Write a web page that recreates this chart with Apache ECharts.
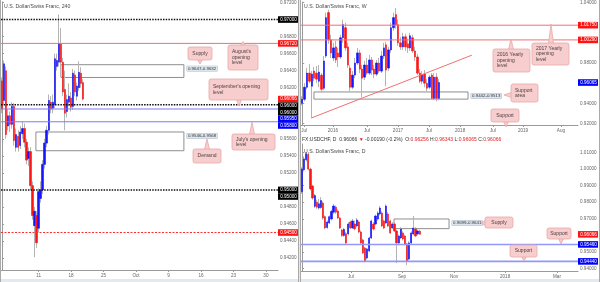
<!DOCTYPE html>
<html><head><meta charset="utf-8">
<script src="https://cdn.jsdelivr.net/npm/echarts@6/dist/echarts.min.js"></script>
<style>html,body{margin:0;padding:0;background:#fff}#c{width:600px;height:282px}</style>
</head><body><div id="c"></div>
<script>
// ================= DATA =================
// ---- 4H panel (left) ----
const h4Open  = [0.9628,0.9605,0.9640,0.9575,0.9587,0.9577,0.9598,0.9550,0.9563,0.9552,0.9566,0.9572,0.9556,0.9537,0.9545,0.9505,0.9458,0.9470,0.9455,0.9490,0.9500,0.9530,0.9555,0.9570,0.9603,0.9596,0.9600,0.9645,0.9650,0.9671,0.9650,0.9618,0.9592,0.9603,0.9608,0.9598,0.9635,0.9610,0.9620,0.9637,0.9626];
const h4Close = [0.9595,0.9648,0.9565,0.9587,0.9577,0.9598,0.9558,0.9565,0.9550,0.9568,0.9572,0.9556,0.9535,0.9545,0.9505,0.9470,0.9475,0.9438,0.9498,0.9500,0.9530,0.9555,0.9570,0.9605,0.9595,0.9603,0.9654,0.9652,0.9672,0.9650,0.9615,0.9590,0.9606,0.9610,0.9597,0.9637,0.9615,0.9622,0.9638,0.9625,0.96066];
const h4High  = [0.9632,0.9652,0.9645,0.9595,0.9592,0.9603,0.9602,0.9572,0.9570,0.9575,0.9580,0.9578,0.9560,0.9550,0.9550,0.9510,0.9480,0.9475,0.9502,0.9510,0.9535,0.9560,0.9575,0.9612,0.9610,0.9612,0.9660,0.9660,0.9706,0.9690,0.9655,0.9640,0.9612,0.9625,0.9615,0.9642,0.9640,0.9626,0.9651,0.9644,0.9630];
const h4Low   = [0.9590,0.9600,0.9560,0.9570,0.9568,0.9572,0.9552,0.9545,0.9545,0.9548,0.9560,0.9550,0.9530,0.9528,0.9500,0.9465,0.9421,0.9432,0.9450,0.9485,0.9495,0.9525,0.9550,0.9565,0.9590,0.9590,0.9596,0.9640,0.9645,0.9645,0.9610,0.9570,0.9585,0.9598,0.9592,0.9594,0.9610,0.9605,0.9616,0.9620,0.9605];
const h4DateTicks = [18,34,50,66,82,98,114,130];
const h4DateLabels = ['11','18','25','Oct','9','16','23','30'];
const h4PriceTicks = [0.942,0.944,0.946,0.948,0.950,0.952,0.954,0.956,0.958,0.960,0.962,0.964,0.966,0.968,0.970,0.972];
const h4Levels = [0.9700,0.9672,0.9600,0.9595,0.9580,0.9500,0.9450];
const h4TagValues = [0.9700,0.9672,0.96066,0.9600,0.9600,0.9595,0.9580,0.9500,0.9500,0.9450];
const h4Zones = [[29,89.6,0.9632,0.9647],[16.7,89.6,0.9546,0.9568]];
const h4ZoneLabels = ['0.9647-0.9632','0.9546-0.9568'];

// ---- Weekly panel (top right) ----
const wkOpen  = [0.9400,0.9440,0.9560,0.9700,0.9570,0.9720,0.9700,0.9620,0.9680,0.9550,0.9870,1.0300,1.0030,0.9850,0.9960,0.9900,0.9860,1.0050,1.0150,0.9960,0.9750,0.9560,0.9680,0.9800,0.9900,0.9740,0.9660,0.9780,0.9700,0.9830,0.9740,0.9690,0.9800,0.9720,0.9870,0.9980,0.9750,0.9930,1.0150,1.0280,1.0180,1.0000,0.9960,1.0060,0.9990,0.9950,1.0050,0.9920,0.9860,0.9700,0.9620,0.9690,0.9600,0.9560,0.9680,0.9450,0.9660,0.9450];
const wkClose = [0.9440,0.9560,0.9700,0.9620,0.9690,0.9650,0.9640,0.9710,0.9540,0.9820,1.0250,1.0030,0.9900,0.9950,0.9830,0.9860,1.0050,1.0180,0.9950,0.9780,0.9560,0.9680,0.9800,0.9900,0.9740,0.9650,0.9780,0.9700,0.9830,0.9730,0.9690,0.9800,0.9720,0.9870,0.9950,0.9730,0.9930,1.0150,1.0250,1.0180,1.0000,0.9960,1.0060,0.9960,0.9950,1.0070,0.9920,0.9860,0.9700,0.9620,0.9680,0.9600,0.9550,0.9660,0.9450,0.9660,0.9450,0.96065];
const wkHigh  = [0.9470,0.9600,0.9750,0.9790,0.9720,0.9760,0.9770,0.9780,0.9700,0.9870,1.0300,1.0328,1.0080,1.0000,1.0020,0.9950,1.0080,1.0230,1.0200,1.0000,0.9780,0.9720,0.9850,0.9950,0.9930,0.9780,0.9820,0.9850,0.9880,0.9860,0.9780,0.9830,0.9850,0.9920,1.0000,1.0010,0.9960,1.0200,1.0300,1.0344,1.0230,1.0060,1.0100,1.0090,1.0040,1.0100,1.0080,0.9960,0.9890,0.9740,0.9720,0.9730,0.9640,0.9680,0.9700,0.9700,0.9700,0.9640];
const wkLow   = [0.9380,0.9420,0.9540,0.9600,0.9259,0.9620,0.9600,0.9560,0.9510,0.9530,0.9850,0.9990,0.9850,0.9820,0.9800,0.9760,0.9840,1.0000,0.9920,0.9750,0.9520,0.9540,0.9650,0.9780,0.9700,0.9460,0.9630,0.9680,0.9680,0.9680,0.9650,0.9670,0.9700,0.9700,0.9840,0.9570,0.9720,0.9900,1.0120,1.0140,0.9970,0.9930,0.9930,0.9920,0.9900,0.9920,0.9900,0.9820,0.9680,0.9600,0.9590,0.9560,0.9520,0.9540,0.9440,0.9440,0.9420,0.9430];
const wkDateTicks = [0.8,12.8,27,39.9,52.8,65.8,79.5,92,107.8];
const wkDateLabels = ['Jul','2016','Jul','2017','Jul','2018','Jul','2019','Aug'];
const wkPriceTicks = [0.92,0.94,0.96,0.98,1.00,1.02,1.04];
const wkLevels = [1.0175,1.0029];
const wkTagValues = [1.0175,1.0029,0.96065];
const wkTrend = [[3.7,0.9254],[70.7,0.9878]];
const wkZones = [[4.9,69.1,0.9442,0.9513]];
const wkZoneLabels = ['0.9442-0.9513'];

// ---- Daily panel (bottom right) ----
const dOpen  = [0.9863,0.9995,1.0055,1.0088,0.9999,0.9897,0.9775,0.9800,0.9765,0.9768,0.9795,0.9713,0.9648,0.9675,0.9699,0.9740,0.9770,0.9747,0.9705,0.9633,0.9600,0.9610,0.9609,0.9681,0.9645,0.9669,0.9657,0.9681,0.9621,0.9573,0.9525,0.9464,0.9507,0.9585,0.9669,0.9669,0.9699,0.9729,0.9735,0.9687,0.9675,0.9729,0.9687,0.9645,0.9669,0.9627,0.9555,0.9585,0.9615,0.9597,0.9549,0.9458,0.9555,0.9609,0.9639,0.9609,0.96256];
const dClose = [1.0000,1.0060,1.0092,0.9999,0.9880,0.9825,0.9840,0.9770,0.9790,0.9810,0.9705,0.9645,0.9681,0.9713,0.9745,0.9777,0.9740,0.9705,0.9645,0.9600,0.9637,0.9555,0.9669,0.9645,0.9687,0.9640,0.9693,0.9621,0.9555,0.9495,0.9446,0.9519,0.9585,0.9687,0.9639,0.9717,0.9735,0.9765,0.9657,0.9645,0.9777,0.9657,0.9615,0.9669,0.9627,0.9555,0.9597,0.9639,0.9579,0.9549,0.9446,0.9555,0.9615,0.9645,0.9597,0.9627,0.96066];
const dHigh  = [1.0010,1.0075,1.0102,1.0098,1.0008,0.9905,0.9850,0.9815,0.9820,0.9830,0.9805,0.9720,0.9690,0.9720,0.9755,0.9790,0.9780,0.9755,0.9712,0.9640,0.9645,0.9620,0.9680,0.9690,0.9700,0.9690,0.9705,0.9690,0.9630,0.9580,0.9530,0.9525,0.9592,0.9695,0.9680,0.9725,0.9745,0.9777,0.9745,0.9695,0.9787,0.9740,0.9695,0.9680,0.9680,0.9635,0.9605,0.9650,0.9625,0.9605,0.9555,0.9565,0.9625,0.9717,0.9650,0.9635,0.96343];
const dLow   = [0.9850,0.9985,1.0045,0.9990,0.9870,0.9815,0.9765,0.9760,0.9755,0.9760,0.9695,0.9638,0.9640,0.9668,0.9690,0.9730,0.9730,0.9698,0.9638,0.9592,0.9592,0.9548,0.9600,0.9638,0.9640,0.9630,0.9648,0.9612,0.9548,0.9488,0.9438,0.9455,0.9500,0.9578,0.9630,0.9660,0.9690,0.9720,0.9650,0.9638,0.9668,0.9650,0.9608,0.9638,0.9620,0.9434,0.9545,0.9578,0.9570,0.9540,0.9421,0.9450,0.9548,0.9600,0.9590,0.9600,0.96065];
const dDateTicks = [23.3,47.6,72.4,96.7,121.4];
const dDateLabels = ['Jul','Sep','Nov','2018','Mar'];
const dPriceTicks = [0.94,0.95,0.96,0.97,0.98,0.99,1.00,1.01];
const dLevels = [0.9546,0.9444];
const dTagValues = [0.96066,0.9546,0.9444];
const dZones = [[43.8,70,0.9641,0.9699]];
const dZoneLabels = ['0.9699-0.9641'];

// ================= RENDER =================
const FONT = '"Liberation Sans", Arial, sans-serif';
const BLUE = '#1414ff', RED = '#ff1414', WICK = '#b4b4b4';
const chart = echarts.init(document.getElementById('c'), null, {renderer:'canvas', width:600, height:282});

const grids = [
  {left:1, top:0, width:277, height:270},
  {left:301, top:0, width:277, height:125},
  {left:301, top:144, width:277, height:127}
];
const yRanges = [[0.9406,0.97208],[0.91854,1.04049],[0.93862,1.01499]];
const xRanges = [[-0.5,-0.5+277/2.03],[-0.5,-0.5+277/2.4],[-0.5,-0.5+277/2.1]];
const bodyW = [1.9, 2.0, 1.7];
const dateTicks = [h4DateTicks, wkDateTicks, dDateTicks];
const dateLabels = [h4DateLabels, wkDateLabels, dDateLabels];
const priceTicks = [h4PriceTicks, wkPriceTicks, dPriceTicks];
const tagValues = [h4TagValues, wkTagValues, dTagValues];

function visibleTicks(k) {
  const pxPerUnit = grids[k].height / (yRanges[k][1] - yRanges[k][0]);
  const thr = 6 / pxPerUnit;
  return priceTicks[k].filter(t => !tagValues[k].some(v => Math.abs(v - t) < thr));
}

const axisFont = {fontSize:4.6, color:'#666', fontFamily:FONT};
const xAxes = [0,1,2].map(k => ({
  type:'value', gridIndex:k, min:xRanges[k][0], max:xRanges[k][1],
  axisLine:{show:true, lineStyle:{color:'#9a9a9a', width:1}},
  axisTick:{show:true, length:2, customValues:dateTicks[k], lineStyle:{color:'#9a9a9a'}},
  axisLabel:Object.assign({show:true, margin:3, customValues:dateTicks[k],
    formatter:v => { const i = dateTicks[k].findIndex(p => Math.abs(p - v) < 1e-6); return i >= 0 ? dateLabels[k][i] : ''; }}, axisFont),
  splitLine:{show:false}
}));
const yAxes = [0,1,2].map(k => ({
  type:'value', gridIndex:k, position:'right', min:yRanges[k][0], max:yRanges[k][1], scale:true,
  axisLine:{show:true, lineStyle:{color:'#9a9a9a', width:1}},
  axisTick:{show:true, length:2, customValues:visibleTicks(k), lineStyle:{color:'#9a9a9a'}},
  axisLabel:Object.assign({show:true, margin:2, customValues:visibleTicks(k), formatter:v => v.toFixed(5)}, axisFont),
  splitLine:{show:false}
}));

const LINE = {
  dotK:{color:'#111', width:1.5, type:[1.5,1.2]},
  redSolid:{color:'#f07070', width:1, type:'solid'},
  blueSolid:{color:'#7a7af6', width:1, type:'solid'},
  blueThick:{color:'#9298fa', width:1.6, type:'solid'},
  dotR:{color:'#ff2b2b', width:1, type:[2,1.5]}
};
const h4LevelStyle = ['dotK','redSolid','dotK','blueSolid','blueSolid','dotK','dotR'];

function lineSeries(k, pts, style) {
  return {type:'line', xAxisIndex:k, yAxisIndex:k, data:pts, symbol:'none', silent:true, z:4,
          lineStyle:style, itemStyle:{color:style.color}, animation:false};
}

function makeSeries(k, O, C, L, H, levels, levelStyles, zones, trend) {
  const wick = O.map((o,i) => [i, o, C[i], L[i], H[i]]);
  const body = O.map((o,i) => [i, o, C[i], Math.min(o, C[i]), Math.max(o, C[i])]);
  const out = [
    {type:'candlestick', xAxisIndex:k, yAxisIndex:k, data:wick, encode:{x:0, y:[1,2,3,4]},
     barWidth:1, silent:true, z:2,
     itemStyle:{color:WICK, color0:WICK, borderColor:WICK, borderColor0:WICK, borderColorDoji:WICK, borderWidth:1}},
    {type:'candlestick', xAxisIndex:k, yAxisIndex:k, data:body, encode:{x:0, y:[1,2,3,4]},
     barWidth:bodyW[k], silent:true, z:3,
     itemStyle:{color:BLUE, color0:RED, borderColor:BLUE, borderColor0:RED, borderColorDoji:RED, borderWidth:0.6},
     markArea:{silent:true, label:{show:false},
       itemStyle:{color:'rgba(255,255,255,0)', borderColor:'#8e8e8e', borderWidth:1},
       data:zones.map(z => [{coord:[z[0], z[3]]}, {coord:[z[1], z[2]]}])}}
  ];
  levels.forEach((v,i) => out.push(lineSeries(k, [[xRanges[k][0], v], [xRanges[k][1], v]], LINE[levelStyles[i]])));
  if (trend) out.push(lineSeries(k, trend, LINE.redSolid));
  return out;
}

const series = [].concat(
  makeSeries(0, h4Open, h4Close, h4Low, h4High, h4Levels, h4LevelStyle, h4Zones, null),
  makeSeries(1, wkOpen, wkClose, wkLow, wkHigh, wkLevels, ['redSolid','redSolid'], wkZones, wkTrend),
  makeSeries(2, dOpen, dClose, dLow, dHigh, dLevels, ['blueThick','blueThick'], dZones, null)
);

chart.setOption({animation:false, backgroundColor:'#fff', grid:grids, xAxis:xAxes, yAxis:yAxes, series:series});

// ---------- annotations ----------
const g = [];
g.push({type:'rect', shape:{x:298, y:0, width:3, height:282}, style:{fill:'#e4e9ef'}, z:50});
g.push({type:'rect', shape:{x:0, y:279, width:600, height:3}, style:{fill:'#e4e9ef'}, z:50});
[[0.5,0,0.5,282],[298.5,0,298.5,282],[300.5,0,300.5,282],[599.5,0,599.5,282]].forEach(l =>
  g.push({type:'line', shape:{x1:l[0], y1:l[1], x2:l[2], y2:l[3]}, style:{stroke:'#a9a9a9', lineWidth:1}, z:51}));

// price tags
const tagColor = {
  0:[ '#000', RED, RED, '#000', '#000', '#0000ff', '#0000ff', '#000', '#000', RED ],
  1:[ RED, RED, '#0000ff' ],
  2:[ RED, '#0000ff', '#0000ff' ]
};
[0,1,2].forEach(k => {
  const x0 = k === 0 ? 278 : 578;
  const H = 6.6;
  const pts = tagValues[k].map((v,i) => ({v, c:tagColor[k][i], y:chart.convertToPixel({yAxisIndex:k}, v)}))
    .sort((a,b) => a.y - b.y);
  let prev = -1e9;
  pts.forEach(p => { if (p.y < prev + H) p.y = prev + H; prev = p.y; });
  pts.forEach(p => {
    g.push({type:'rect', shape:{x:x0, y:p.y - H/2, width:20, height:H}, style:{fill:p.c}, z:60});
    g.push({type:'text', style:{x:x0 + 10.5, y:p.y, text:p.v.toFixed(5), fill:'#fff', fontSize:4.6, fontFamily:FONT, align:'center', verticalAlign:'middle'}, z:61});
  });
});

// zone labels
[[0, h4Zones, h4ZoneLabels],[1, wkZones, wkZoneLabels],[2, dZones, dZoneLabels]].forEach(([k, zs, ls]) => {
  zs.forEach((z,i) => {
    const p = chart.convertToPixel({gridIndex:k}, [z[1], z[3]]);
    g.push({type:'text', style:{x:p[0] + 3, y:p[1] + 1.5, text:ls[i], fill:'#333', fontSize:4.4, fontFamily:FONT,
      align:'left', verticalAlign:'top', backgroundColor:'#dde6ef', borderColor:'#b4bfcb', borderWidth:0.5, padding:[0.6,1,0.3,1]}, z:55});
  });
});

// callouts
const PINK = '#f7cdcd', PINK_B = '#e8a8a8', CT = '#4c4040';
function callout(x, y, w, h, lines, tail, leftAlign) {
  let pts;
  if (tail.side === 'up') pts = [[tail.c - 2.5, y + 0.5], [tail.c + 2.5, y + 0.5], [tail.c, tail.tip]];
  else if (tail.side === 'down') pts = [[tail.c - 2.5, y + h - 0.5], [tail.c + 2.5, y + h - 0.5], [tail.c, tail.tip]];
  else pts = [[x + 0.5, tail.c - 2.5], [x + 0.5, tail.c + 2.5], [tail.tip, tail.c]];
  g.push({type:'polygon', shape:{points:pts}, style:{fill:PINK, stroke:PINK_B, lineWidth:0.8}, z:70});
  g.push({type:'rect', shape:{x:x, y:y, width:w, height:h, r:2}, style:{fill:PINK, stroke:PINK_B, lineWidth:0.8}, z:71});
  const lh = 5.6;
  lines.forEach((t,i) => {
    const ty = y + h/2 - (lines.length - 1) * lh / 2 + i * lh;
    g.push({type:'text', style:{x:leftAlign ? x + 4 : x + w/2, y:ty, text:t, fill:CT, fontSize:5, fontFamily:FONT,
      align:leftAlign ? 'left' : 'center', verticalAlign:'middle'}, z:72});
  });
}
callout(188, 47, 24, 13, ['Supply'], {side:'down', c:200, tip:64}, false);
callout(228, 45, 30, 25, ["August's", 'opening', 'level'], {side:'up', c:243, tip:41.5}, true);
callout(209, 79, 59, 21, ["September's opening", 'level'], {side:'down', c:239, tip:106}, true);
callout(232, 134, 43, 16, ["July's opening", 'level'], {side:'up', c:252, tip:122}, true);
callout(193, 149, 28, 14, ['Demand'], {side:'up', c:207, tip:139}, false);
callout(493, 49, 37, 23, ['2016 Yearly', 'opening', 'level'], {side:'up', c:511, tip:39}, true);
callout(532, 43, 37, 22, ['2017 Yearly', 'opening', 'level'], {side:'up', c:551, tip:24}, true);
callout(511, 84, 27, 18, ['Support', 'area'], {side:'left', c:95, tip:504}, true);
callout(491, 109, 28, 13, ['Support'], {side:'down', c:506, tip:127}, false);
callout(485, 217, 28, 11, ['Supply'], {side:'left', c:223, tip:481}, false);
callout(547, 228, 24, 11, ['Support'], {side:'down', c:561, tip:244}, false);
callout(510, 245, 27, 12, ['Support'], {side:'down', c:524, tip:261}, false);

// titles
const titleStyle = {fill:'#4a4a4a', fontSize:5.2, fontFamily:FONT, align:'left', verticalAlign:'middle'};
g.push({type:'text', style:Object.assign({x:4, y:7, text:'U.S. Dollar/Swiss Franc, 240'}, titleStyle), z:80});
g.push({type:'text', style:Object.assign({x:304, y:7, text:'U.S. Dollar/Swiss Franc, W'}, titleStyle), z:80});
g.push({type:'text', style:Object.assign({x:304, y:152, text:'U.S. Dollar/Swiss Franc, D'}, titleStyle), z:80});
g.push({type:'text', z:80, style:{x:302, y:139.5, fontSize:5, fontFamily:FONT, align:'left', verticalAlign:'middle',
  text:'{d|FX:USDCHF, D  0.96066 }{r|▼}{d| -0.00190 (-0.2%)  O:}{r|0.96256}{d| H:}{r|0.96343}{d| L:}{r|0.96065}{d| C:}{r|0.96066}',
  rich:{d:{fill:'#333', fontSize:5, fontFamily:FONT}, r:{fill:'#e02020', fontSize:5, fontFamily:FONT}}}});

chart.setOption({graphic:{elements:g}});
</script></body></html>
